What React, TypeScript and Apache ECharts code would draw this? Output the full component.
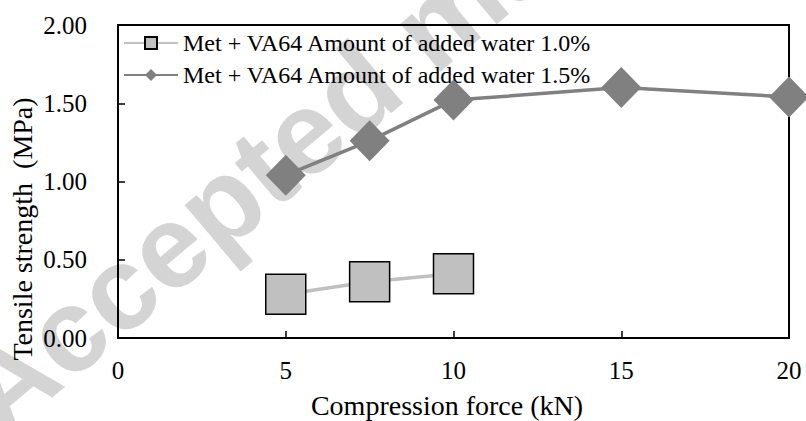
import React, { useEffect, useRef } from "react";
import * as echarts from "echarts";

const seriesNames = [
  "Met + VA64 Amount of added water 1.0%",
  "Met + VA64 Amount of added water 1.5%",
];
const force10 = [5, 7.5, 10];
const strength10 = [0.28, 0.36, 0.41];
const force15 = [5, 7.5, 10, 15, 20];
const strength15 = [1.04, 1.26, 1.52, 1.6, 1.54];
const xTicks = [0, 5, 10, 15, 20];
const yTicks = ["0.00", "0.50", "1.00", "1.50", "2.00"];
const xTitle = "Compression force (kN)";
const yTitle = "Tensile strength  (MPa)";
const watermark = "Accepted manuscript";

const SERIF = "Liberation Serif";

export default function App() {
  const ref = useRef<HTMLDivElement>(null);
  useEffect(() => {
    if (!ref.current) return;
    const chart = echarts.init(ref.current, undefined, { renderer: "svg" });
    chart.setOption({
      animation: false,
      backgroundColor: "#fff",
      grid: {
        left: 118,
        right: 17,
        top: 25,
        bottom: 83,
        show: true,
        borderColor: "#000",
        borderWidth: 2,
        containLabel: false,
        outerBoundsMode: "none",
      },
      graphic: [
        {
          type: "text",
          z: -10,
          x: -24,
          y: 408,
          rotation: (40 * Math.PI) / 180,
          style: {
            text: watermark,
            fill: "#d4d4d4",
            fontFamily: "Liberation Sans",
            fontWeight: "bold",
            fontSize: 118,
            textAlign: "left",
            textVerticalAlign: "middle",
          },
        },
        {
          type: "text",
          x: 447,
          y: 405,
          style: {
            text: xTitle,
            fill: "#000",
            fontFamily: SERIF,
            fontSize: 28,
            textAlign: "center",
            textVerticalAlign: "middle",
          },
        },
        {
          type: "text",
          x: 22,
          y: 229,
          rotation: Math.PI / 2,
          style: {
            text: yTitle,
            fill: "#000",
            fontFamily: SERIF,
            fontSize: 28,
            textAlign: "center",
            textVerticalAlign: "middle",
          },
        },
      ],
      legend: {
        orient: "vertical",
        left: 123,
        top: 31,
        padding: 0,
        itemWidth: 54,
        itemHeight: 15,
        itemGap: 8,
        textStyle: { fontFamily: SERIF, fontSize: 24, color: "#000", lineHeight: 24 },
        data: seriesNames,
      },
      xAxis: {
        type: "value",
        min: 0,
        max: 20,
        interval: 5,
        axisLine: { show: true, lineStyle: { color: "#000", width: 2 } },
        axisTick: { show: true, inside: true, length: 7, lineStyle: { color: "#000", width: 1.5 } },
        axisLabel: {
          margin: 20,
          fontFamily: SERIF,
          fontSize: 25,
          color: "#000",
          formatter: (v: number) => (xTicks.includes(v) ? String(v) : ""),
        },
        splitLine: { show: false },
      },
      yAxis: {
        type: "value",
        min: 0,
        max: 2,
        interval: 0.5,
        axisLine: { show: true, lineStyle: { color: "#000", width: 2 } },
        axisTick: { show: true, inside: true, length: 7, lineStyle: { color: "#000", width: 1.5 } },
        axisLabel: {
          margin: 31,
          fontFamily: SERIF,
          fontSize: 25,
          color: "#000",
          formatter: (v: number) => yTicks[Math.round(v / 0.5)] ?? v.toFixed(2),
        },
        splitLine: { show: false },
      },
      series: [
        {
          name: seriesNames[0],
          type: "line",
          data: force10.map((x, i) => [x, strength10[i]]),
          symbol: "rect",
          symbolSize: 40,
          clip: false,
          z: 3,
          lineStyle: { color: "#c0c0c0", width: 3.5 },
          itemStyle: { color: "#c0c0c0", borderColor: "#000", borderWidth: 1.5 },
        },
        {
          name: seriesNames[1],
          type: "line",
          data: force15.map((x, i) => [x, strength15[i]]),
          symbol: "diamond",
          symbolSize: [40, 41],
          clip: false,
          z: 4,
          lineStyle: { color: "#808080", width: 3.5 },
          itemStyle: { color: "#808080", borderWidth: 0 },
        },
      ],
    });
    return () => chart.dispose();
  }, []);
  return <div ref={ref} style={{ width: 806, height: 421, position: "absolute", left: 0, top: 0 }} />;
}
